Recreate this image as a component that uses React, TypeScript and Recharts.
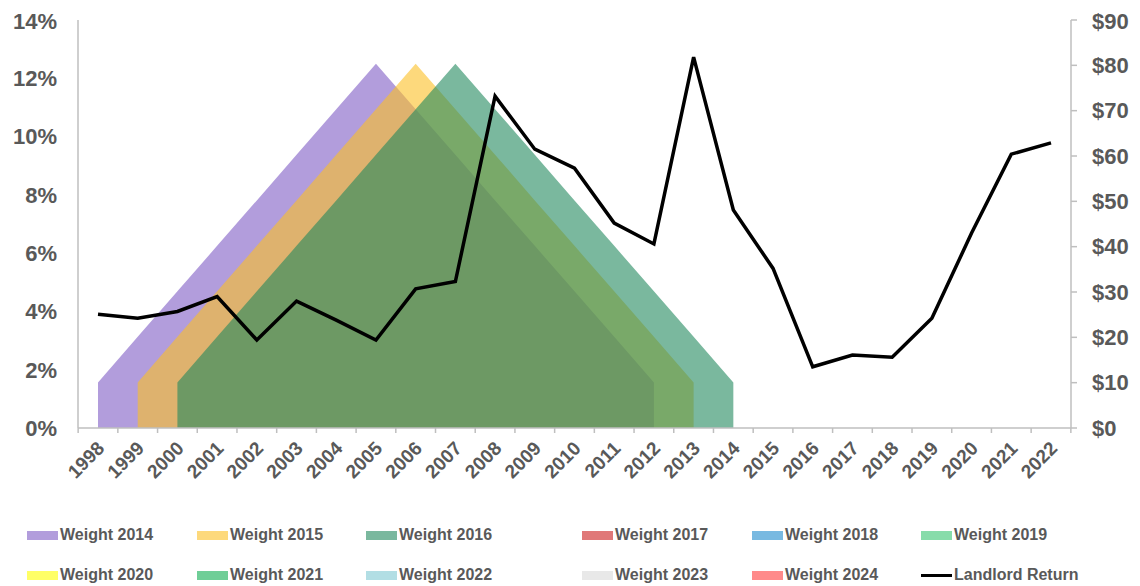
import React from 'react';
import { ComposedChart, Area, Line, XAxis, YAxis } from 'recharts';

const years = ['1998', '1999', '2000', '2001', '2002', '2003', '2004', '2005', '2006', '2007', '2008', '2009', '2010',
  '2011', '2012', '2013', '2014', '2015', '2016', '2017', '2018', '2019', '2020', '2021', '2022'];

// weights (share of total), triangular profile
const weight2014 = [0.0156, 0.0313, 0.0469, 0.0625, 0.0781, 0.0938, 0.1094, 0.125, 0.1094, 0.0938, 0.0781, 0.0625,
  0.0469, 0.0313, 0.0156, null, null, null, null, null, null, null, null, null, null];
const weight2015 = [null, 0.0156, 0.0313, 0.0469, 0.0625, 0.0781, 0.0938, 0.1094, 0.125, 0.1094, 0.0938, 0.0781,
  0.0625, 0.0469, 0.0313, 0.0156, null, null, null, null, null, null, null, null, null];
const weight2016 = [null, null, 0.0156, 0.0313, 0.0469, 0.0625, 0.0781, 0.0938, 0.1094, 0.125, 0.1094, 0.0938,
  0.0781, 0.0625, 0.0469, 0.0313, 0.0156, null, null, null, null, null, null, null, null];

// landlord return in $
const landlordReturn = [25.1, 24.2, 25.7, 29.0, 19.4, 28.0, 23.8, 19.4, 30.7, 32.3, 73.2, 61.5, 57.3, 45.2, 40.6,
  81.8, 48.1, 35.2, 13.5, 16.1, 15.6, 24.2, 43.0, 60.4, 62.9];

const pctTicks = [0, 0.02, 0.04, 0.06, 0.08, 0.1, 0.12, 0.14];
const dollarTicks = [0, 10, 20, 30, 40, 50, 60, 70, 80, 90];

const legendItems = [
  { name: 'Weight 2014', color: '#7F5CC5' },
  { name: 'Weight 2015', color: '#FBC024' },
  { name: 'Weight 2016', color: '#21895D' },
  { name: 'Weight 2017', color: '#CB1E1E' },
  { name: 'Weight 2018', color: '#1E8ACD' },
  { name: 'Weight 2019', color: '#37C571' },
  { name: 'Weight 2020', color: '#FFFF00' },
  { name: 'Weight 2021', color: '#0FAE52' },
  { name: 'Weight 2022', color: '#7FC8D2' },
  { name: 'Weight 2023', color: '#D8D8D8' },
  { name: 'Weight 2024', color: '#FF3C3C' },
  { name: 'Landlord Return', color: '#000000' },
];

const data = years.map((year, i) => ({
  year,
  w2014: weight2014[i],
  w2015: weight2015[i],
  w2016: weight2016[i],
  ret: landlordReturn[i],
}));

const FONT = '"Liberation Sans", Arial, sans-serif';
const TEXT = '#595959';
const AXIS = '#BFBFBF';
const HALF_BAND = 19.86;
const LEGEND_COLS = [19, 189, 358, 574, 744, 913];

const XTick = (props: any) => {
  const { x, y, payload, index } = props;
  const tx = x + 4;
  const ty = y + 18;
  return (
    <g>
      <line x1={x - HALF_BAND} x2={x - HALF_BAND} y1={y} y2={y + 5} stroke={AXIS} strokeWidth={1.5} />
      {index === years.length - 1 && (
        <line x1={x + HALF_BAND} x2={x + HALF_BAND} y1={y} y2={y + 5} stroke={AXIS} strokeWidth={1.5} />
      )}
      <text x={tx} y={ty} textAnchor="end" dominantBaseline="middle" transform={`rotate(-45, ${tx}, ${ty})`}
        fill={TEXT} fontSize={19} fontWeight="bold" fontFamily={FONT}>
        {payload.value}
      </text>
    </g>
  );
};

const App = () => {
  return (
    <div style={{ position: 'relative', width: 1124, height: 578, fontFamily: FONT }}>
      <ComposedChart width={1124} height={490} data={data} margin={{ top: 12, right: 0, left: 0, bottom: 0 }}>
        <XAxis dataKey="year" padding={{ left: 20, right: 20 }} stroke={AXIS} strokeWidth={1.5}
          tickLine={false} tickSize={0} tickMargin={0} height={70} interval={0} tick={<XTick />} />
        <YAxis yAxisId="left" domain={[0, 0.14]} ticks={pctTicks} width={70} stroke={AXIS} strokeWidth={1.5}
          tickLine={false} tickMargin={15} tickFormatter={(v: number) => `${Math.round(v * 100)}%`}
          tick={{ fill: TEXT, fontSize: 22, fontWeight: 'bold', fontFamily: FONT }} />
        <YAxis yAxisId="right" orientation="right" domain={[0, 90]} ticks={dollarTicks} width={61}
          stroke={AXIS} strokeWidth={1.5} tickSize={6} tickMargin={15} tickFormatter={(v: number) => `$${v}`}
          tick={{ fill: TEXT, fontSize: 22, fontWeight: 'bold', fontFamily: FONT, textAnchor: 'start' }} />
        <Area yAxisId="left" type="linear" dataKey="w2014" fill={legendItems[0].color} fillOpacity={0.6}
          stroke="none" isAnimationActive={false} />
        <Area yAxisId="left" type="linear" dataKey="w2015" fill={legendItems[1].color} fillOpacity={0.6}
          stroke="none" isAnimationActive={false} />
        <Area yAxisId="left" type="linear" dataKey="w2016" fill={legendItems[2].color} fillOpacity={0.6}
          stroke="none" isAnimationActive={false} />
        <Line yAxisId="right" type="linear" dataKey="ret" stroke="#000" strokeWidth={3.5} dot={false}
          isAnimationActive={false} />
      </ComposedChart>

      {legendItems.map((item, i) => (
        <div key={item.name} style={{
          position: 'absolute', left: LEGEND_COLS[i % 6], top: 517 + Math.floor(i / 6) * 40, height: 20,
          display: 'flex', alignItems: 'center',
        }}>
          {item.name === 'Landlord Return' ? (
            <div style={{ width: 31, height: 3, background: '#000', marginRight: 2 }} />
          ) : (
            <div style={{ width: 31, height: 9, background: item.color, opacity: 0.6, marginRight: 2 }} />
          )}
          <span style={{ fontSize: 16, fontWeight: 'bold', color: TEXT, whiteSpace: 'nowrap' }}>{item.name}</span>
        </div>
      ))}
    </div>
  );
};

export default App;
